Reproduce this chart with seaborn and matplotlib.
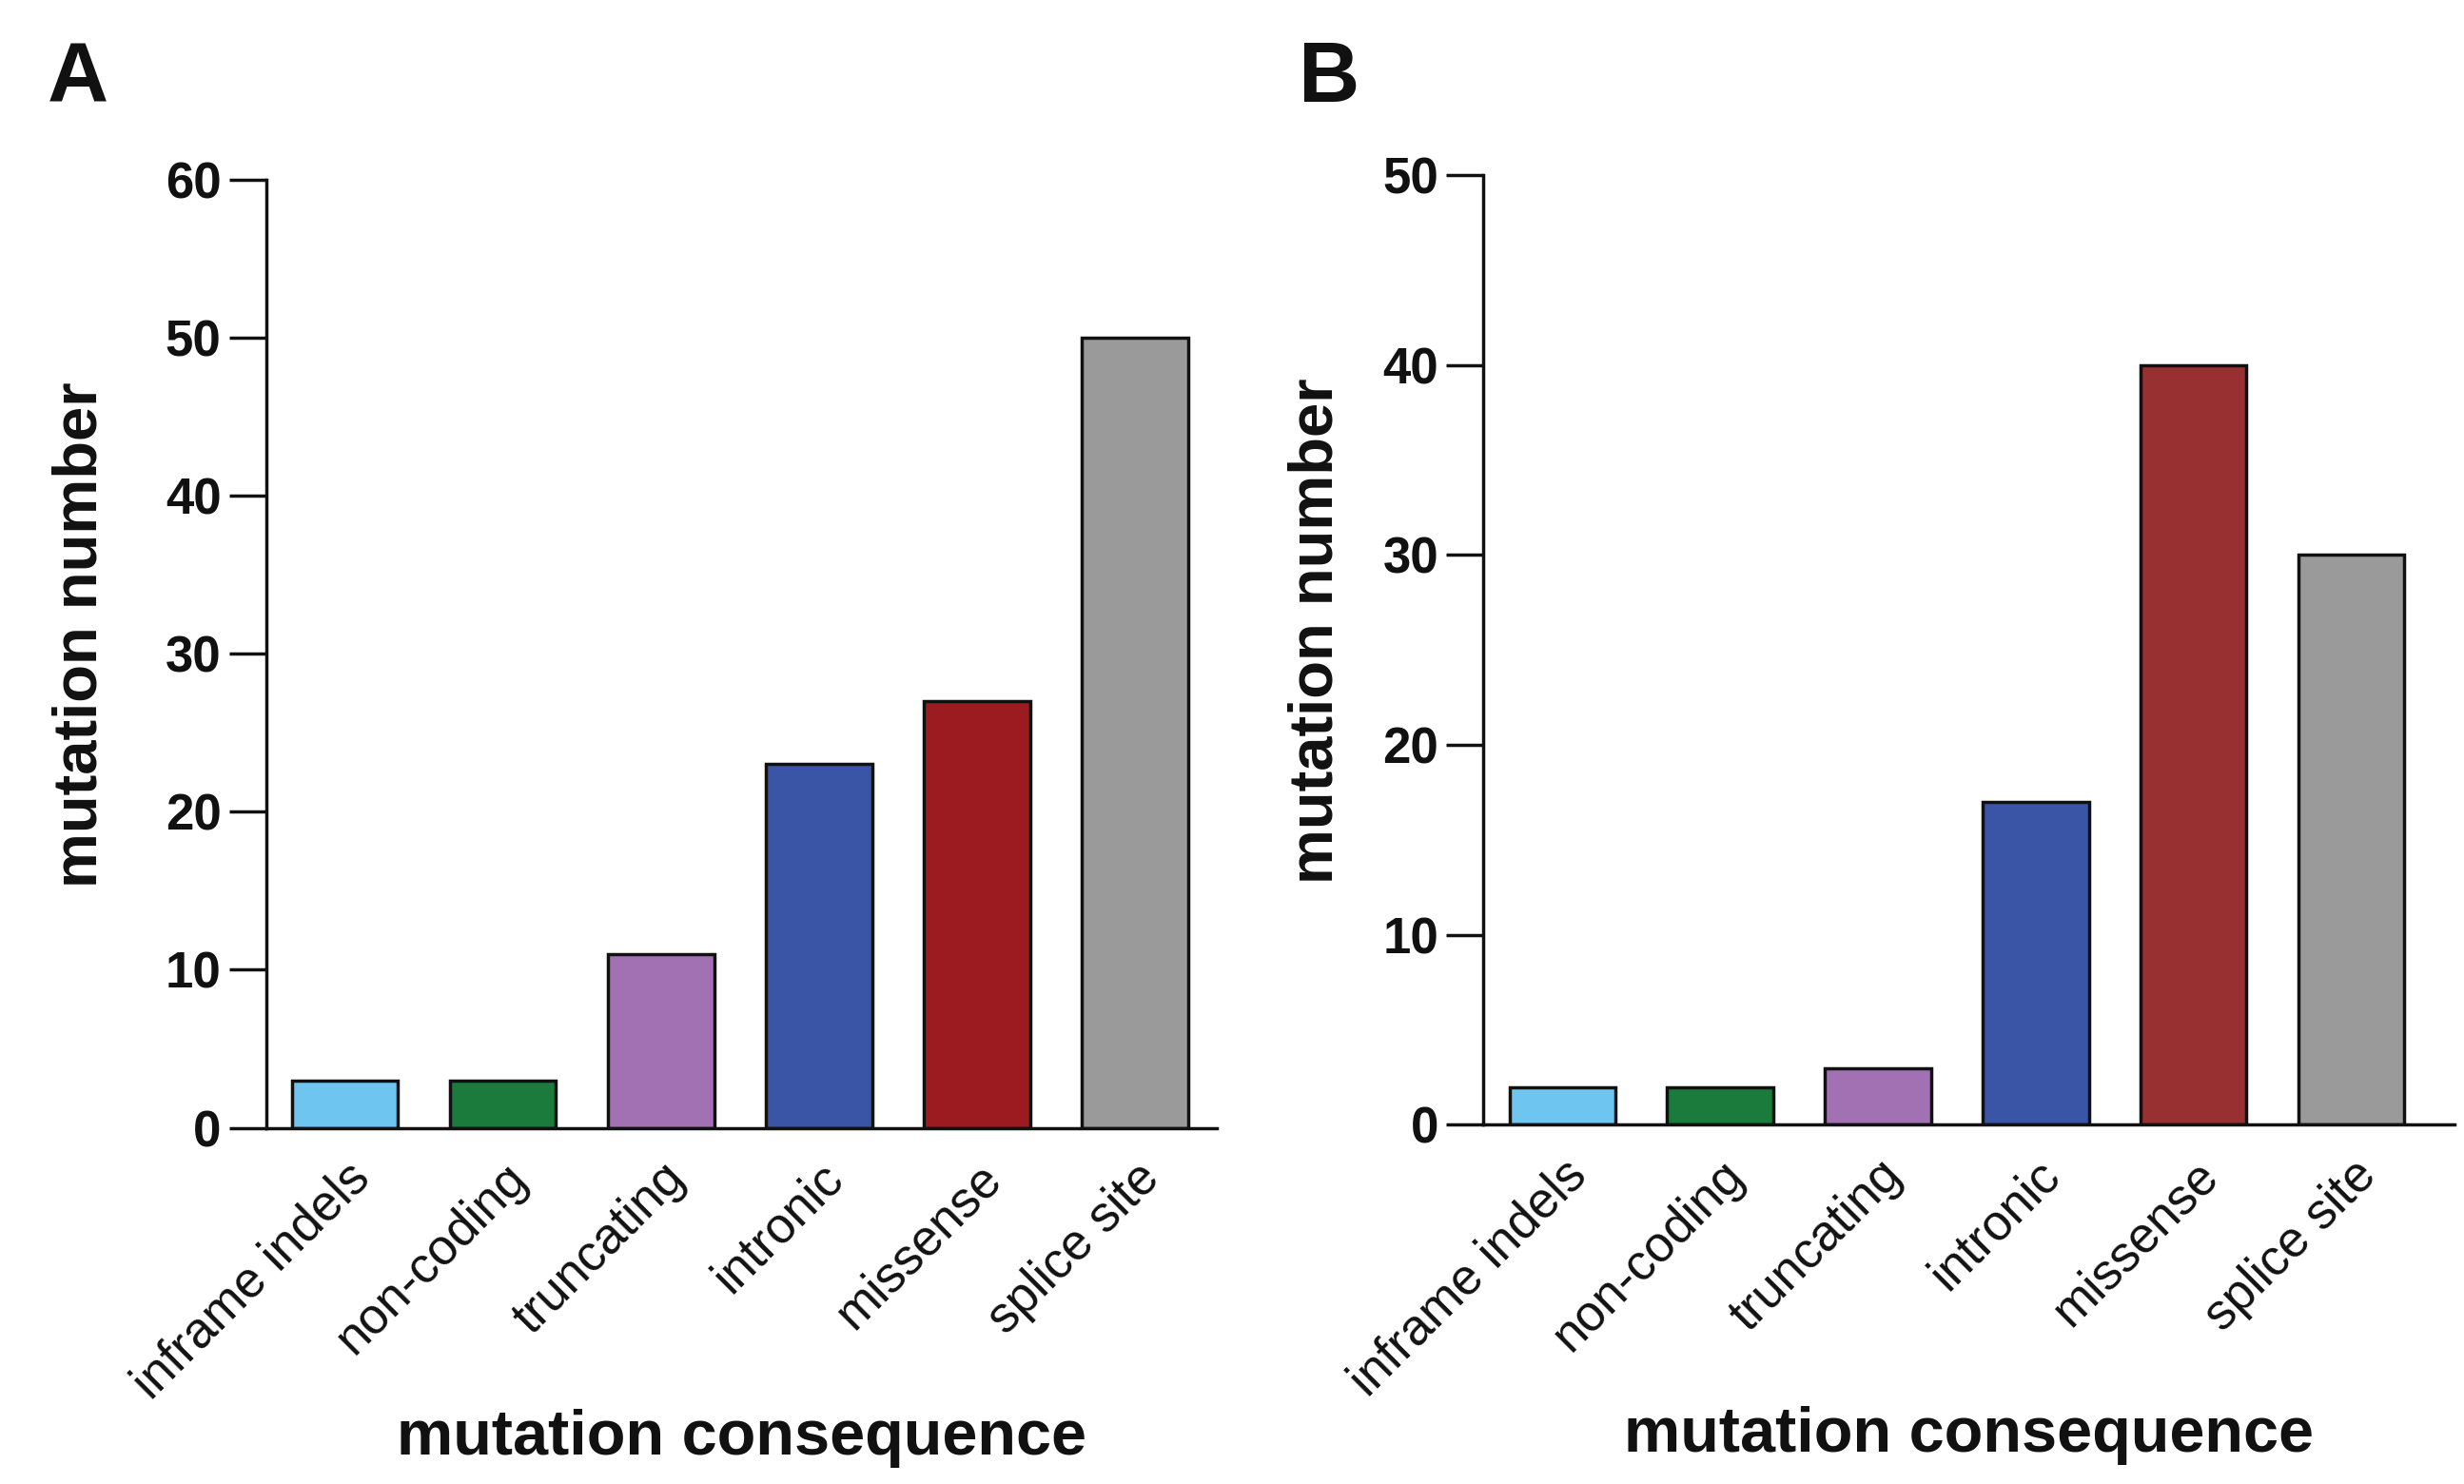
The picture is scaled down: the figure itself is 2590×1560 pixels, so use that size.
import numpy as np
import pandas as pd
import matplotlib
matplotlib.use("Agg")
import matplotlib.pyplot as plt
import seaborn as sns

# --- data ---
categories = ["inframe indels", "non-coding", "truncating", "intronic", "missense", "splice site"]
counts_a = [3, 3, 11, 23, 27, 50]
counts_b = [2, 2, 3, 17, 40, 30]
colors_a = ["#6DC5F0", "#1B7B3C", "#A171B3", "#3A55A6", "#9C1B20", "#9A9A9A"]
colors_b = ["#6DC5F0", "#1B7B3C", "#A171B3", "#3A55A6", "#983031", "#9A9A9A"]
yticks_a = [0, 10, 20, 30, 40, 50, 60]
yticks_b = [0, 10, 20, 30, 40, 50]

sns.set_style("white")
plt.rcParams["font.family"] = ["Liberation Sans", "DejaVu Sans"]
plt.rcParams["text.color"] = "#111111"
plt.rcParams["axes.labelcolor"] = "#111111"
plt.rcParams["xtick.color"] = "#111111"
plt.rcParams["ytick.color"] = "#111111"

fig = plt.figure(figsize=(25.9, 15.6), dpi=100)
ax_a = fig.add_axes([0.108, 0.240, 0.386, 0.639])
ax_b = fig.add_axes([0.602, 0.242, 0.394, 0.640])


def draw_panel(ax, counts, colors, yticks, xmax, ylab_x):
    df = pd.DataFrame({"consequence": categories, "count": counts})
    sns.barplot(data=df, x="consequence", y="count", hue="consequence",
                palette=colors, legend=False, width=0.67,
                edgecolor="#111111", linewidth=2.5, saturation=1, ax=ax)
    ax.set_ylim(0, yticks[-1])
    ax.set_xlim(-0.5, xmax)
    ax.set_yticks(yticks)
    ax.set_yticklabels([str(t) for t in yticks], fontsize=38, fontweight="bold")
    ax.set_xticks(range(len(categories)))
    ax.set_xticklabels(categories, rotation=45, ha="right", rotation_mode="anchor",
                       fontsize=38)
    ax.tick_params(axis="y", length=28, width=2.5, color="#111111", pad=6, left=True)
    ax.tick_params(axis="x", length=0, pad=20)
    for side in ["top", "right"]:
        ax.spines[side].set_visible(False)
    for side in ["left", "bottom"]:
        ax.spines[side].set_linewidth(2.5)
        ax.spines[side].set_color("#111111")
    ax.set_ylabel("mutation number", fontsize=47, fontweight="bold")
    ax.yaxis.set_label_coords(ylab_x, 0.52)
    ax.set_xlabel("mutation consequence", fontsize=48, fontweight="bold", labelpad=0)


draw_panel(ax_a, counts_a, colors_a, yticks_a, 5.52, -0.165)
draw_panel(ax_b, counts_b, colors_b, yticks_b, 5.65, -0.143)

# panel letters
fig.text(0.0192, 0.973, "A", fontsize=64, fontweight="bold", va="top", ha="left")
fig.text(0.527, 0.973, "B", fontsize=64, fontweight="bold", va="top", ha="left")

fig.savefig("out.png", dpi=100)
